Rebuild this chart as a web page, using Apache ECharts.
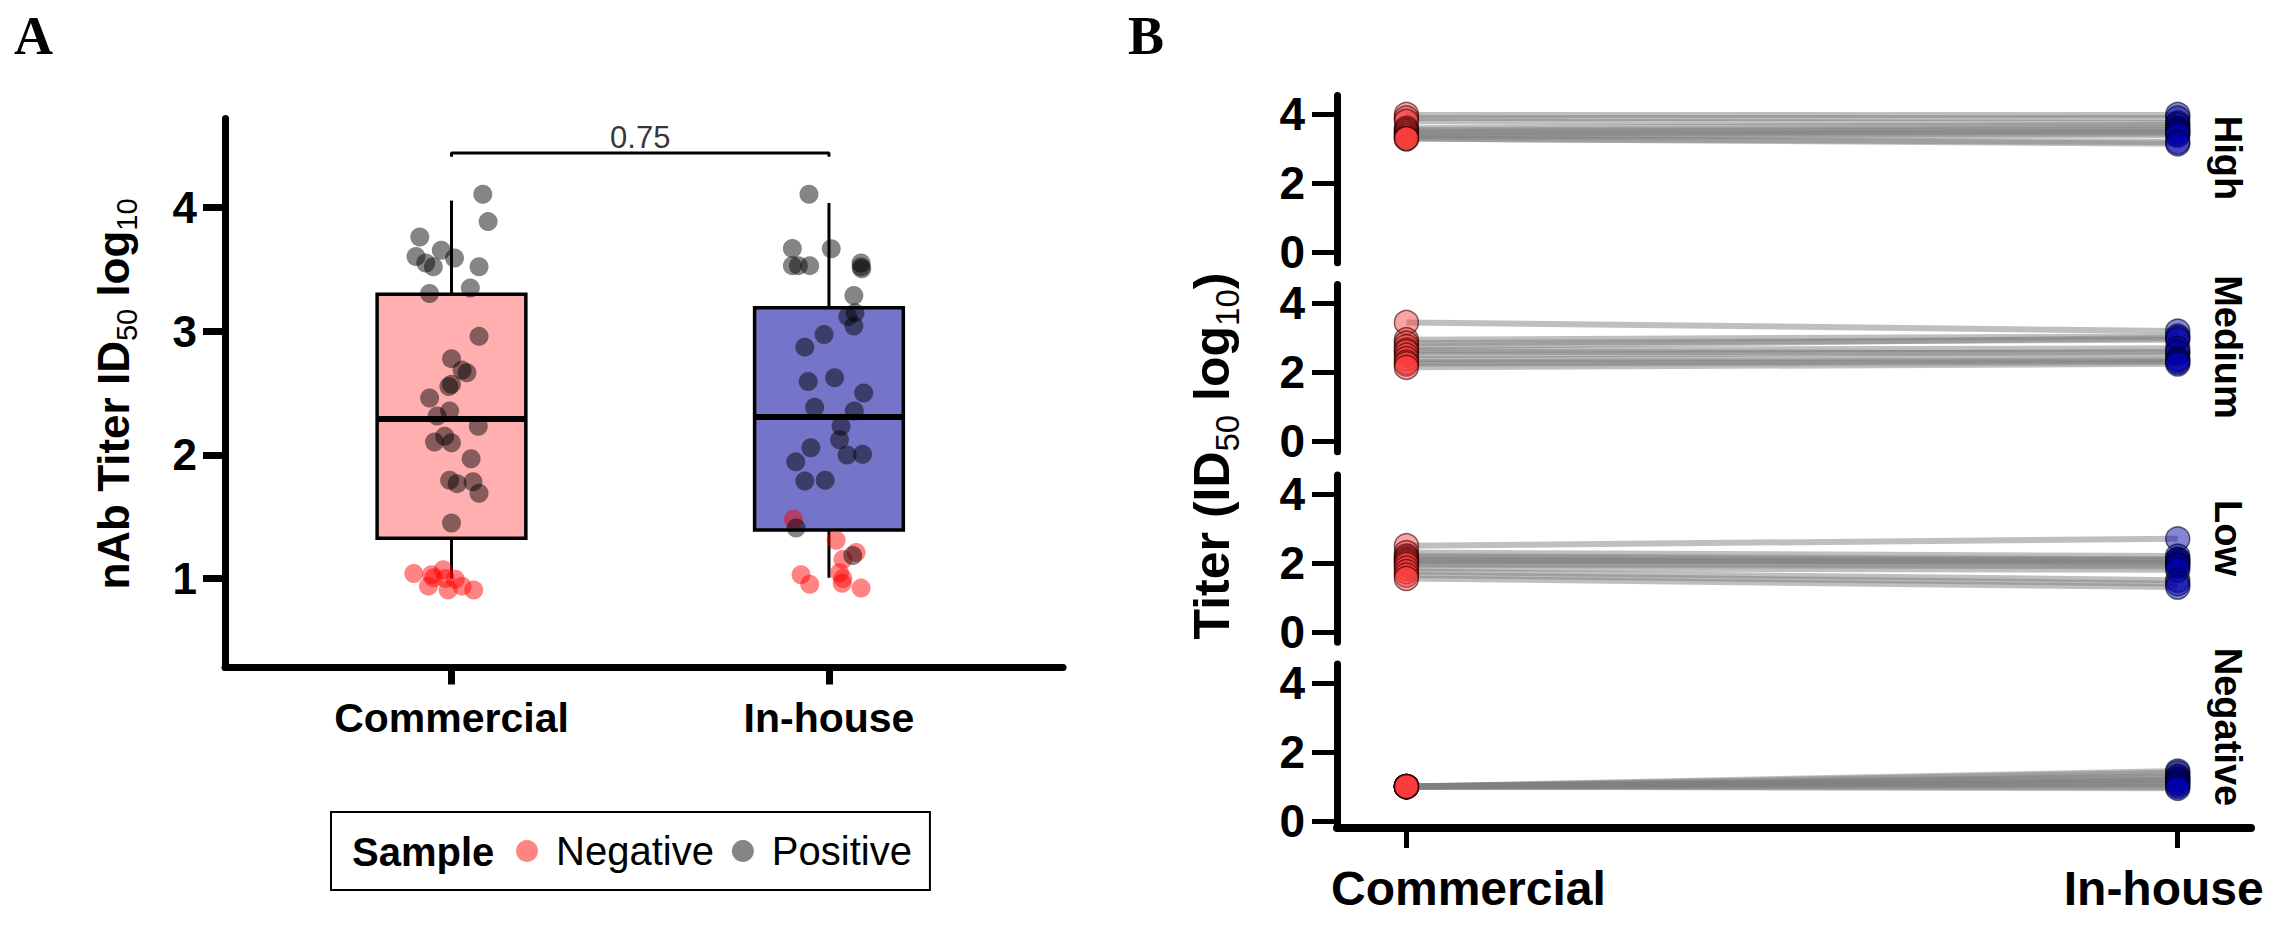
<!DOCTYPE html>
<html><head><meta charset="utf-8">
<script src="https://cdn.jsdelivr.net/npm/echarts@6/dist/echarts.min.js"></script>
<style>html,body{margin:0;padding:0;background:#fff}#c{width:2289px;height:936px}</style>
</head><body><div id="c"></div>
<script>
// ---------- Panel A data ----------
const aCats = ['Commercial', 'In-house'];
const aTicks = [1, 2, 3, 4];
// [min, q1, median, q3, max]
const boxCommercial = [1.0, 1.325, 2.29, 3.298, 4.056];
const boxInhouse = [1.006, 1.393, 2.305, 3.19, 4.037];
// jittered points: horizontal jitter (category units) and titer values
const comPosJit = [0.083,0.097,-0.084,-0.027,0.008,-0.094,-0.068,-0.048,0.073,-0.058,0.05,0.073,0,0.028,0.041,0,-0.007,-0.058,-0.005,-0.038,0.071,-0.018,-0.045,0,0.052,-0.005,0.015,0.057,0.073,0];
const comPosVal = [4.108,3.886,3.762,3.654,3.592,3.604,3.551,3.521,3.521,3.304,3.35,2.958,2.778,2.685,2.664,2.571,2.552,2.46,2.355,2.314,2.231,2.15,2.104,2.098,1.968,1.795,1.767,1.782,1.689,1.448];
const comNegJit = [-0.1,-0.053,-0.022,-0.047,-0.016,0.01,-0.061,-0.009,0.028,0.059];
const comNegVal = [1.04,1.03,1.07,1.006,1.0,0.993,0.938,0.907,0.938,0.907];
const inhPosJit = [-0.053,-0.097,0.006,-0.097,-0.081,-0.051,0.085,0.085,0.087,0.066,0.05,0.069,0.066,-0.013,-0.064,-0.055,0.015,0.092,-0.038,0.067,0.032,0.028,-0.048,-0.088,0.048,0.089,-0.064,-0.01,-0.087,0.063];
const inhPosVal = [4.108,3.669,3.666,3.53,3.53,3.53,3.551,3.52,3.505,3.289,3.118,3.149,3.041,2.973,2.871,2.593,2.624,2.5,2.385,2.354,2.231,2.122,2.058,1.943,1.999,2.005,1.788,1.795,1.408,1.185];
const inhNegJit = [-0.094,0.019,0.072,0.037,0.028,0.037,-0.074,-0.051,0.035,0.085];
const inhNegVal = [1.479,1.309,1.21,1.154,1.046,1.0,1.03,0.953,0.962,0.922];
const pValue = '0.75';
const bracketX = [1, 1, 2, 2];
const bracketY = [4.41, 4.44, 4.44, 4.41];

// ---------- Panel B data ----------
const bGroups = ['High', 'Medium', 'Low', 'Negative'];
const bTicks = [0, 2, 4];
const highCom = [4.0, 3.9, 3.8, 3.6, 3.55, 3.5, 3.45, 3.4, 3.35, 3.3, 3.3];
const highInh = [4.0, 3.9, 3.75, 3.7, 3.6, 3.55, 3.5, 3.45, 3.4, 3.2, 3.15];
const medCom = [3.45, 2.95, 2.85, 2.75, 2.65, 2.6, 2.5, 2.4, 2.3, 2.25, 2.15];
const medInh = [3.2, 3.05, 2.95, 3.0, 2.7, 2.55, 2.6, 2.4, 2.35, 2.3, 2.25];
const lowCom = [2.5, 2.3, 2.2, 2.15, 2.1, 2.05, 2.0, 1.95, 1.85, 1.75, 1.65, 1.55];
const lowInh = [2.7, 2.2, 2.1, 2.05, 2.0, 2.1, 1.95, 1.9, 1.8, 1.5, 1.4, 1.3];
const negCom = [1.0, 1.0, 1.0, 1.0, 1.0, 1.0, 1.0, 1.0, 1.0, 1.0];
const negInh = [1.45, 1.4, 1.3, 1.25, 1.2, 1.15, 1.1, 1.05, 1.0, 0.95];

const FONT = '"Liberation Sans", Arial, Helvetica, sans-serif';
const chart = echarts.init(document.getElementById('c'), null, {renderer: 'svg'});

const bCom = [highCom, medCom, lowCom, negCom];
const bInh = [highInh, medInh, lowInh, negInh];
const bTops = [95.5, 284.5, 475, 664];
const bMins = [-0.3, -0.3, -0.3, -0.2];
const bHeights = [167.3, 167.3, 167.3, 164];
const stripY = [158, 347, 538, 727];

const grids = [{left: 225, top: 118.5, width: 838, height: 549}];
const xAxes = [{
  gridIndex: 0, type: 'value', min: 0.4, max: 2.62,
  splitLine: {show: false},
  axisLine: {onZero: false, lineStyle: {color: '#000', width: 7}},
  axisTick: {customValues: [1, 2], length: 17, lineStyle: {color: '#000', width: 7}},
  axisLabel: {customValues: [1, 2], formatter: v => aCats[Math.round(v) - 1], margin: 30,
    fontSize: 41, fontWeight: 'bold', color: '#000', fontFamily: FONT}
}];
const yAxes = [{
  gridIndex: 0, type: 'value', min: 0.28, max: 4.72,
  splitLine: {show: false},
  axisLine: {show: true, onZero: false, lineStyle: {color: '#000', width: 7}},
  axisTick: {show: true, customValues: aTicks, length: 22, lineStyle: {color: '#000', width: 7}},
  axisLabel: {customValues: aTicks, margin: 28, fontSize: 44, fontWeight: 'bold', color: '#000', fontFamily: FONT}
}];

bGroups.forEach((g, i) => {
  const last = i === bGroups.length - 1;
  grids.push({left: 1337, top: bTops[i], width: 914, height: bHeights[i]});
  xAxes.push({
    gridIndex: i + 1, type: 'value', min: 0.91, max: 2.095, show: last,
    splitLine: {show: false},
    axisLine: {onZero: false, lineStyle: {color: '#000', width: 8}},
    axisTick: {customValues: [1, 2], length: 20, lineStyle: {color: '#000', width: 5}},
    axisLabel: {customValues: [1, 2], margin: 36,
      formatter: v => (Math.round(v) === 1 ? '{c|' + aCats[0] + '}' : '{h|' + aCats[1] + '}'),
      fontSize: 48, fontWeight: 'bold', color: '#000', fontFamily: FONT,
      rich: {
        c: {fontSize: 48, fontWeight: 'bold', color: '#000', fontFamily: FONT, padding: [0, 0, 0, 124]},
        h: {fontSize: 48, fontWeight: 'bold', color: '#000', fontFamily: FONT, padding: [0, 28, 0, 0]}
      }}
  });
  yAxes.push({
    gridIndex: i + 1, type: 'value', min: bMins[i], max: 4.55,
    splitLine: {show: false},
    axisLine: {show: true, onZero: false, lineStyle: {color: '#000', width: 7}},
    axisTick: {show: true, customValues: bTicks, length: 25, lineStyle: {color: '#000', width: 5}},
    axisLabel: {customValues: bTicks, margin: 32, fontSize: 46, fontWeight: 'bold', color: '#000', fontFamily: FONT}
  });
});

const BOX_HALF = 0.197;
const boxFills = ['#FFAFAF', '#7474C8'];

const series = [
  {
    type: 'custom', xAxisIndex: 0, yAxisIndex: 0, z: 1, silent: true,
    data: [[1].concat(boxCommercial), [2].concat(boxInhouse)],
    encode: {x: 0, y: [1, 2, 3, 4, 5]},
    renderItem: function (params, api) {
      const x = api.value(0);
      const c = api.coord([x, api.value(3)]);
      const pMin = api.coord([x, api.value(1)]);
      const pQ1 = api.coord([x, api.value(2)]);
      const pQ3 = api.coord([x, api.value(4)]);
      const pMax = api.coord([x, api.value(5)]);
      const hw = api.coord([x + BOX_HALF, api.value(3)])[0] - c[0];
      return {type: 'group', children: [
        {type: 'line', shape: {x1: c[0], y1: pMax[1], x2: c[0], y2: pQ3[1]}, style: {stroke: '#000', lineWidth: 3}},
        {type: 'line', shape: {x1: c[0], y1: pQ1[1], x2: c[0], y2: pMin[1]}, style: {stroke: '#000', lineWidth: 3}},
        {type: 'rect', shape: {x: c[0] - hw, y: pQ3[1], width: 2 * hw, height: pQ1[1] - pQ3[1]},
          style: {fill: boxFills[params.dataIndex], stroke: '#000', lineWidth: 3.5}},
        {type: 'line', shape: {x1: c[0] - hw, y1: c[1], x2: c[0] + hw, y2: c[1]}, style: {stroke: '#000', lineWidth: 6}}
      ]};
    }
  },
  {
    type: 'line', xAxisIndex: 0, yAxisIndex: 0, silent: true, symbol: 'none', z: 3,
    data: bracketX.map((x, i) => [x, bracketY[i]]),
    lineStyle: {color: '#000', width: 3}
  },
  {
    type: 'scatter', xAxisIndex: 0, yAxisIndex: 0, silent: true, symbolSize: 0, z: 3,
    data: [[(bracketX[0] + bracketX[3]) / 2, 4.57]],
    label: {show: true, position: 'inside', formatter: pValue, fontSize: 31, color: '#000', fontFamily: FONT}
  },
  {
    name: 'Negative', type: 'scatter', xAxisIndex: 0, yAxisIndex: 0, z: 4, symbolSize: 19,
    itemStyle: {color: 'rgba(255,0,0,0.6)'},
    data: comNegVal.map((v, i) => [1 + comNegJit[i], v]).concat(inhNegVal.map((v, i) => [2 + inhNegJit[i], v]))
  },
  {
    name: 'Positive', type: 'scatter', xAxisIndex: 0, yAxisIndex: 0, z: 5, symbolSize: 19,
    itemStyle: {color: 'rgba(0,0,0,0.6)'},
    data: comPosVal.map((v, i) => [1 + comPosJit[i], v]).concat(inhPosVal.map((v, i) => [2 + inhPosJit[i], v]))
  }
];

bGroups.forEach((g, i) => {
  const ax = i + 1;
  series.push({
    name: g + ' pairs', type: 'lines', coordinateSystem: 'cartesian2d', xAxisIndex: ax, yAxisIndex: ax,
    silent: true, z: 2,
    lineStyle: {color: '#808080', opacity: 0.5, width: 6},
    data: bCom[i].map((v, k) => ({coords: [[1, v], [2, bInh[i][k]]]}))
  });
  series.push({
    name: g + ' commercial', type: 'scatter', xAxisIndex: ax, yAxisIndex: ax, z: 4, symbolSize: 24, silent: true,
    itemStyle: {color: 'rgba(250,60,60,0.6)', borderColor: 'rgba(40,0,0,0.75)', borderWidth: 1.5},
    data: bCom[i].map(v => [1, v])
  });
  series.push({
    name: g + ' in-house', type: 'scatter', xAxisIndex: ax, yAxisIndex: ax, z: 4, symbolSize: 24, silent: true,
    itemStyle: {color: 'rgba(0,0,170,0.6)', borderColor: 'rgba(0,0,30,0.75)', borderWidth: 1.5},
    data: bInh[i].map(v => [2, v])
  });
});

const graphics = [
  {type: 'text', x: 14, y: 36, style: {text: 'A', font: 'bold 54px "Liberation Serif", "Times New Roman", serif', fill: '#000', verticalAlign: 'middle'}},
  {type: 'text', x: 1128, y: 36, style: {text: 'B', font: 'bold 54px "Liberation Serif", "Times New Roman", serif', fill: '#000', verticalAlign: 'middle'}},
  {type: 'text', x: 113, y: 394, rotation: Math.PI / 2,
    style: {text: '{a|nAb Titer ID}{s|50}{a| log}{s|10}', align: 'center', verticalAlign: 'middle',
      rich: {
        a: {fontSize: 44, fontWeight: 'bold', fontFamily: FONT, fill: '#000', lineHeight: 56},
        s: {fontSize: 29, fontFamily: FONT, fill: '#000', lineHeight: 56, verticalAlign: 'bottom'}
      }}},
  {type: 'text', x: 1212, y: 456, rotation: Math.PI / 2,
    style: {text: '{a|Titer (ID}{s|50}{a| log}{s|10}{a|)}', align: 'center', verticalAlign: 'middle',
      rich: {
        a: {fontSize: 50, fontWeight: 'bold', fontFamily: FONT, fill: '#000', lineHeight: 64},
        s: {fontSize: 33, fontFamily: FONT, fill: '#000', lineHeight: 64, verticalAlign: 'bottom'}
      }}},
  {type: 'text', x: 352, y: 852, style: {text: 'Sample', font: 'bold 40px ' + FONT, fill: '#000', verticalAlign: 'middle'}}
];
bGroups.forEach((g, i) => {
  graphics.push({type: 'text', x: 2228, y: stripY[i], rotation: -Math.PI / 2,
    style: {text: g, font: 'bold 38px ' + FONT, fill: '#000', align: 'center', verticalAlign: 'middle'}});
});

chart.setOption({
  animation: false,
  backgroundColor: '#fff',
  grid: grids,
  xAxis: xAxes,
  yAxis: yAxes,
  legend: {
    data: ['Negative', 'Positive'], selectedMode: false, orient: 'horizontal',
    left: 331, top: 812, padding: [19, 18, 19, 185], itemGap: 18, itemWidth: 22, itemHeight: 22, icon: 'circle',
    borderColor: '#000', borderWidth: 2,
    textStyle: {fontSize: 40, color: '#000', fontFamily: FONT, padding: [0, 0, 0, 13]}
  },
  graphic: graphics,
  series: series
});
</script></body></html>
